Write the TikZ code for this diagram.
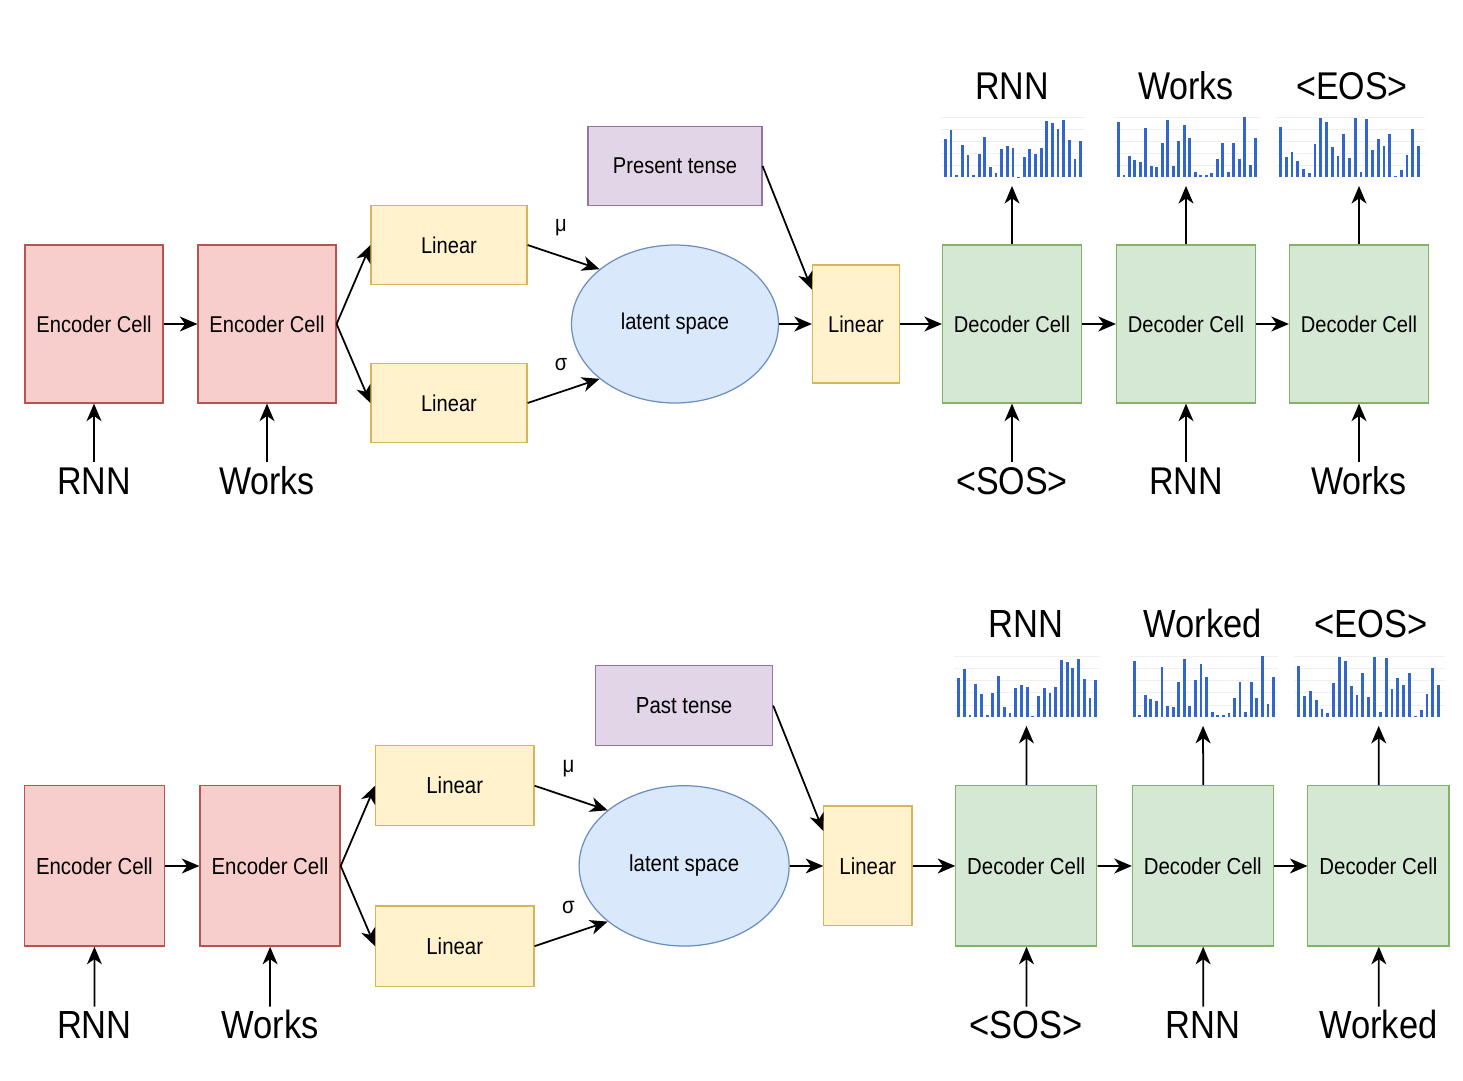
\documentclass[tikz,border=0pt]{standalone}
\usepackage{fontspec}
\setmainfont{Liberation Sans}[FakeStretch=0.88]
\usetikzlibrary{arrows.meta, shapes.geometric}

\definecolor{encfill}{HTML}{F8CECC}
\definecolor{encline}{HTML}{B85450}
\definecolor{linfill}{HTML}{FFF2CC}
\definecolor{linline}{HTML}{D6B656}
\definecolor{latfill}{HTML}{DAE8FC}
\definecolor{latline}{HTML}{6C8EBF}
\definecolor{tensefill}{HTML}{E1D5E7}
\definecolor{tenseline}{HTML}{9673A6}
\definecolor{decfill}{HTML}{D5E8D4}
\definecolor{decline}{HTML}{82B366}
\definecolor{barblue}{HTML}{3366CC}

% bar heights of the three output distributions
\def\barsA{38,47,2,32,22,2,23,40,10,4,28,31,29,0.5,20,28,23,29,56,54,48,57,37,18,36}
\def\barsB{55,2,21,17,15,49,11,10,34,57,11,36,52,39,5,2,2,4,18,34,5,34,18,60,12,39}
\def\barsC{50,20,25,16,8,4,33,59,55,30,21,43,19,59,5,58,27,38,31,43,1,7,22,48,31}

\tikzset{
    box/.style={draw, line width=0.7pt, inner sep=0pt, font=\fontsize{13}{15}\selectfont},
    enccell/.style={box, fill=encfill, draw=encline, minimum width=2.76cm, minimum height=3.16cm},
    deccell/.style={box, fill=decfill, draw=decline, minimum width=2.78cm, minimum height=3.16cm},
    linbox/.style={box, fill=linfill, draw=linline, minimum width=3.12cm, minimum height=1.58cm},
    tensebox/.style={box, fill=tensefill, draw=tenseline, minimum width=3.48cm, minimum height=1.58cm},
    latent/.style={box, ellipse, fill=latfill, draw=latline, minimum width=4.14cm, minimum height=3.16cm},
    greek/.style={font=\fontsize{13}{15}\selectfont},
    word/.style={font=\fontsize{22}{26}\selectfont, anchor=base, inner sep=2pt, text height=15.75pt, text depth=0pt},
    flow/.style={-{Stealth[length=10pt, width=8.5pt, inset=3pt]}, line width=1pt},
    gridline/.style={black!6, line width=0.5pt}
}

\begin{document}
\begin{tikzpicture}[x=0.02cm, y=-0.02cm]
    \fill[white] (0,0) rectangle (1463,1080);
    \useasboundingbox (0,0) rectangle (1463,1080);

    \foreach \r/\dx/\dy/\s/\tensetext/\outword/\inword in {a/0/0/1/Present tense/Works/Works, b/-1/537/1.015/Past tense/Worked/Worked}{
    \begin{scope}[shift={(\dx,\dy)}, scale=\s, transform shape]
        % encoder
        \node[enccell] (enc1\r) at (94,324) {Encoder Cell};
        \node[enccell] (enc2\r) at (267,324) {Encoder Cell};
        \node[linbox] (mu\r) at (449,245) {Linear};
        \node[linbox] (sigma\r) at (449,403) {Linear};
        \node[greek] (mulab\r) at (561,228) {μ};
        \node[greek] (siglab\r) at (561,365) {σ};
        \node[latent] (lat\r) at (675,324) {latent space};
        \node[tensebox] (tense\r) at (675,166) {\tensetext};
        \node[linbox, minimum width=1.74cm, minimum height=2.36cm] (lin\r) at (856,324) {Linear};
        % decoder
        \node[deccell] (dec1\r) at (1012,324) {Decoder Cell};
        \node[deccell] (dec2\r) at (1186,324) {Decoder Cell};
        \node[deccell] (dec3\r) at (1359,324) {Decoder Cell};

        % inputs and outputs
        \node[word] (in1\r) at (94,494) {RNN};
        \node[word] (in2\r) at (267,494) {Works};
        \node[word] (in3\r) at (1012,494) {<SOS>};
        \node[word] (in4\r) at (1186,494) {RNN};
        \node[word] (in5\r) at (1359,494) {\inword};
        \node[word] (out1\r) at (1012,99) {RNN};
        \node[word] (out2\r) at (1186,99) {\outword};
        \node[word] (out3\r) at (1352,99) {<EOS>};
        \coordinate (tip1\r) at (1012,186);
        \coordinate (tip2\r) at (1186,186);
        \coordinate (tip3\r) at (1359,186);

        % distributions
        \foreach \g in {11.5,23.5,35.5,47.5,59.5}{
            \draw[gridline] (941,177-\g) -- (1085,177-\g);
            \draw[gridline] (1114,177-\g) -- (1260,177-\g);
            \draw[gridline] (1276,177-\g) -- (1425,177-\g);
        }
        \foreach \h [count=\i from 0] in \barsA
            \fill[barblue] (944+\i*5.63,177) rectangle ++(2.8,-\h);
        \foreach \h [count=\i from 0] in \barsB
            \fill[barblue] (1117+\i*5.49,177) rectangle ++(2.8,-\h);
        \foreach \h [count=\i from 0] in \barsC
            \fill[barblue] (1279+\i*5.75,177) rectangle ++(2.8,-\h);

        % connectors
        \draw[flow] (enc1\r) -- (enc2\r);
        \draw[flow] (enc2\r.east) -- (mu\r.west);
        \draw[flow] (enc2\r.east) -- (sigma\r.west);
        \draw[flow] (mu\r.east) -- (lat\r.144);
        \draw[flow] (sigma\r.east) -- (lat\r.216);
        \draw[flow] (tense\r.east) -- (lin\r.142);
        \draw[flow] (lat\r) -- (lin\r);
        \draw[flow] (lin\r) -- (dec1\r);
        \draw[flow] (dec1\r) -- (dec2\r);
        \draw[flow] (dec2\r) -- (dec3\r);
        \draw[flow] (in1\r) -- (enc1\r);
        \draw[flow] (in2\r) -- (enc2\r);
        \draw[flow] (in3\r) -- (dec1\r);
        \draw[flow] (in4\r) -- (dec2\r);
        \draw[flow] (in5\r) -- (dec3\r);
        \draw[flow] (dec1\r) -- (tip1\r);
        \draw[flow] (dec2\r) -- (tip2\r);
        \draw[flow] (dec3\r) -- (tip3\r);
    \end{scope}
    }
\end{tikzpicture}
\end{document}
